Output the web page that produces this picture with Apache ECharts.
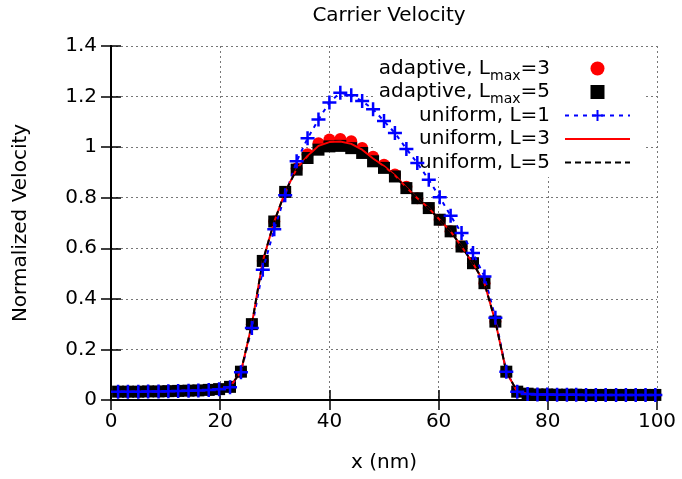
<!DOCTYPE html>
<html>
<head>
<meta charset="utf-8">
<script src="https://cdn.jsdelivr.net/npm/echarts@6/dist/echarts.min.js"></script>
<style>
  html, body { margin: 0; padding: 0; background: #fff; }
  #chart { width: 682px; height: 479px; }
</style>
</head>
<body>
<div id="chart"></div>
<script>
// positions along the device (nm)
var xPos = [1.3, 3.1, 5.0, 6.8, 8.7, 10.5, 12.3, 14.2, 16.0, 17.9, 19.8, 21.8, 23.8, 25.8, 27.8, 29.9,
    31.9, 34.0, 36.0, 38.0, 40.0, 42.0, 44.0, 46.0, 48.0, 50.0, 52.0, 54.1, 56.1, 58.2, 60.2, 62.2,
    64.2, 66.3, 68.4, 70.4, 72.4, 74.4, 76.3, 78.1, 79.9, 81.7, 83.5, 85.2, 87.0, 88.8, 90.6, 92.5,
    94.3, 96.1, 97.9, 99.7];

var adaptive3 = [0.033, 0.033, 0.033, 0.034, 0.034, 0.035, 0.036, 0.037, 0.038, 0.040, 0.043, 0.052,
    0.112, 0.300, 0.550, 0.706, 0.823, 0.916, 0.972, 1.015, 1.030, 1.032, 1.023, 0.997, 0.962, 0.930,
    0.892, 0.843, 0.798, 0.759, 0.713, 0.667, 0.607, 0.541, 0.462, 0.310, 0.112, 0.033, 0.025, 0.022,
    0.022, 0.021, 0.021, 0.021, 0.020, 0.020, 0.020, 0.020, 0.020, 0.020, 0.020, 0.020];

var adaptive5 = [0.033, 0.033, 0.033, 0.034, 0.034, 0.035, 0.036, 0.037, 0.038, 0.040, 0.043, 0.052,
    0.112, 0.300, 0.550, 0.706, 0.823, 0.911, 0.957, 0.990, 1.003, 1.005, 0.996, 0.977, 0.944, 0.918,
    0.884, 0.838, 0.798, 0.759, 0.713, 0.667, 0.607, 0.541, 0.462, 0.310, 0.112, 0.033, 0.025, 0.022,
    0.022, 0.021, 0.021, 0.021, 0.020, 0.020, 0.020, 0.020, 0.020, 0.020, 0.020, 0.020];

var uniform1 = [0.033, 0.033, 0.033, 0.034, 0.034, 0.035, 0.036, 0.037, 0.038, 0.040, 0.043, 0.050,
    0.110, 0.285, 0.515, 0.675, 0.810, 0.944, 1.035, 1.109, 1.177, 1.215, 1.205, 1.182, 1.150, 1.103,
    1.056, 0.993, 0.937, 0.871, 0.802, 0.729, 0.660, 0.581, 0.488, 0.325, 0.112, 0.033, 0.024, 0.022,
    0.022, 0.021, 0.021, 0.021, 0.020, 0.020, 0.020, 0.020, 0.020, 0.020, 0.020, 0.020];

var uniform3 = [0.033, 0.033, 0.033, 0.034, 0.034, 0.035, 0.036, 0.037, 0.038, 0.040, 0.043, 0.052,
    0.112, 0.300, 0.550, 0.706, 0.823, 0.914, 0.965, 1.005, 1.020, 1.022, 1.013, 0.990, 0.955, 0.925,
    0.889, 0.841, 0.798, 0.759, 0.713, 0.667, 0.607, 0.541, 0.462, 0.310, 0.112, 0.033, 0.025, 0.022,
    0.022, 0.021, 0.021, 0.021, 0.020, 0.020, 0.020, 0.020, 0.020, 0.020, 0.020, 0.020];

var uniform5 = [0.033, 0.033, 0.033, 0.034, 0.034, 0.035, 0.036, 0.037, 0.038, 0.040, 0.043, 0.052,
    0.112, 0.300, 0.550, 0.706, 0.823, 0.911, 0.957, 0.990, 1.003, 1.005, 0.996, 0.977, 0.944, 0.918,
    0.884, 0.838, 0.798, 0.759, 0.713, 0.667, 0.607, 0.541, 0.462, 0.310, 0.112, 0.033, 0.025, 0.022,
    0.022, 0.021, 0.021, 0.021, 0.020, 0.020, 0.020, 0.020, 0.020, 0.020, 0.020, 0.020];

var seriesNames = ['adaptive, Lmax=3', 'adaptive, Lmax=5', 'uniform, L=1', 'uniform, L=3', 'uniform, L=5'];

var FONT = 'DejaVu Sans';
var plusPath = 'path://M5.75,0h2.5v5.75h5.75v2.5h-5.75v5.75h-2.5v-5.75h-5.75v-2.5h5.75z';
var squarePath = 'path://M0,0h10v10h-10z';

function pairs(ys) {
    var out = [];
    for (var i = 0; i < xPos.length; i++) {
        out.push([xPos[i], ys[i]]);
    }
    return out;
}

var myChart = echarts.init(document.getElementById('chart'));

var gridLine = { show: true, lineStyle: { color: '#777', type: [2, 3], width: 1 } };
var tickIn = { show: true, inside: true, length: 10, lineStyle: { color: '#000', width: 1.5 } };
var border = { show: true, lineStyle: { color: '#000', width: 2 } };

var option = {
    backgroundColor: '#fff',
    animation: false,
    title: {
        text: 'Carrier Velocity',
        left: 384,
        textAlign: 'center',
        top: 1,
        textStyle: { fontFamily: FONT, fontSize: 20, fontWeight: 'normal', color: '#000' }
    },
    grid: { left: 111, right: 25, top: 46, bottom: 79 },
    legend: {
        orient: 'vertical',
        align: 'right',
        right: 37,
        top: 48,
        z: 1,
        padding: [6, 14, 0, 5],
        backgroundColor: '#fff',
        itemWidth: 65,
        itemHeight: 14,
        itemGap: -5.5,
        symbolKeepAspect: true,
        selectedMode: false,
        data: [
            { name: seriesNames[0] },
            { name: seriesNames[1], icon: squarePath },
            { name: seriesNames[2] },
            { name: seriesNames[3], itemStyle: { opacity: 0 } },
            { name: seriesNames[4], itemStyle: { opacity: 0 } }
        ],
        formatter: function (name) {
            if (name.indexOf('Lmax') >= 0) {
                var parts = name.split('Lmax');
                return '{n|' + parts[0] + 'L}{s|max}{n|' + parts[1] + '}{g| }';
            }
            return '{s| }{n|' + name + '}{g| }';
        },
        textStyle: {
            color: '#000',
            rich: {
                n: { fontFamily: FONT, fontSize: 20, lineHeight: 29, verticalAlign: 'middle', color: '#000' },
                s: { fontFamily: FONT, fontSize: 14, lineHeight: 14, padding: [15, 0, 0, 0], verticalAlign: 'bottom', color: '#000' },
                g: { fontFamily: FONT, fontSize: 14, width: 10 }
            }
        }
    },
    xAxis: [{
        type: 'value',
        min: 0, max: 100, interval: 20,
        position: 'bottom',
        name: 'x (nm)',
        nameLocation: 'middle',
        nameGap: 53,
        nameTextStyle: { fontFamily: FONT, fontSize: 20, color: '#000' },
        axisLine: border,
        axisTick: tickIn,
        axisLabel: { fontFamily: FONT, fontSize: 20, color: '#000', margin: 12 },
        splitLine: gridLine
    }, {
        type: 'value',
        min: 0, max: 100, interval: 20,
        position: 'top',
        axisLine: border,
        axisTick: tickIn,
        axisLabel: { show: false },
        splitLine: { show: false }
    }],
    yAxis: [{
        type: 'value',
        min: 0, max: 1.4, interval: 0.2,
        position: 'left',
        name: 'Normalized Velocity',
        nameLocation: 'middle',
        nameRotate: 90,
        nameGap: 80,
        nameTextStyle: { fontFamily: FONT, fontSize: 20, color: '#000' },
        axisLine: border,
        axisTick: tickIn,
        axisLabel: { fontFamily: FONT, fontSize: 20, color: '#000', margin: 14 },
        splitLine: gridLine
    }, {
        type: 'value',
        min: 0, max: 1.4, interval: 0.2,
        position: 'right',
        axisLine: border,
        axisTick: tickIn,
        axisLabel: { show: false },
        splitLine: { show: false }
    }],
    series: [{
        name: seriesNames[0],
        type: 'scatter',
        symbol: 'circle',
        symbolSize: 12,
        itemStyle: { color: '#ff0000', opacity: 1 },
        data: pairs(adaptive3)
    }, {
        name: seriesNames[1],
        type: 'scatter',
        symbol: 'rect',
        symbolSize: 12,
        itemStyle: { color: '#000000', opacity: 1 },
        data: pairs(adaptive5)
    }, {
        name: seriesNames[2],
        type: 'line',
        symbol: plusPath,
        symbolSize: 14,
        showAllSymbol: true,
        itemStyle: { color: '#0000ff' },
        lineStyle: { color: '#0000ff', width: 2, type: [4, 5] },
        data: pairs(uniform1)
    }, {
        name: seriesNames[3],
        type: 'line',
        symbol: 'none',
        itemStyle: { color: '#ff0000' },
        lineStyle: { color: '#ff0000', width: 2, type: 'solid' },
        data: pairs(uniform3)
    }, {
        name: seriesNames[4],
        type: 'line',
        symbol: 'none',
        itemStyle: { color: '#000000' },
        lineStyle: { color: '#000000', width: 2, type: [6, 4] },
        data: pairs(uniform5)
    }]
};

myChart.setOption(option);
</script>
</body>
</html>
